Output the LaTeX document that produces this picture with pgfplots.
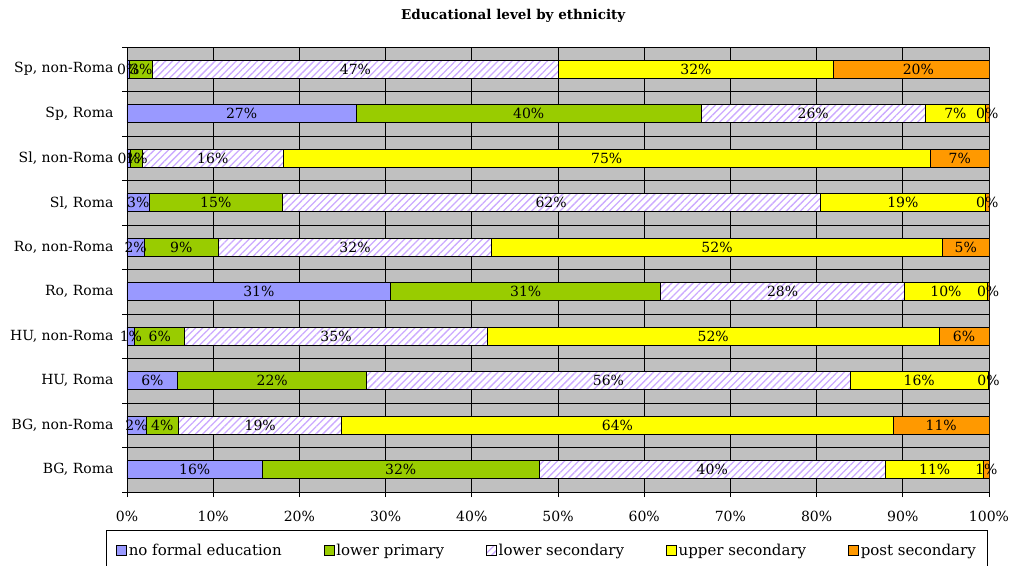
\documentclass[border=0pt]{standalone}
\usepackage{fontspec}
\setmainfont{DejaVu Serif}
\usepackage{pgfplots}
\pgfplotsset{compat=1.18}
\usepackage{pgfplotstable}
\usetikzlibrary{patterns.meta}

\definecolor{cnf}{RGB}{153,153,255}
\definecolor{clp}{RGB}{153,204,0}
\definecolor{cls}{RGB}{204,170,255}
\definecolor{cus}{RGB}{255,255,0}
\definecolor{cps}{RGB}{255,153,0}
\definecolor{bggray}{RGB}{192,192,192}

% rows from bottom (BG, Roma) to top (Sp, non-Roma), shares in %
\pgfplotstableread{
row nf   lp   ls   us   ps
0   15.7 32.1 40.2 11.4 0.6
1   2.2  3.8  18.9 64.0 11.1
2   5.9  21.9 56.1 16.0 0.1
3   0.9  5.8  35.1 52.4 5.8
4   30.6 31.3 28.3 9.6  0.2
5   2.0  8.6  31.7 52.3 5.4
6   2.6  15.4 62.4 19.2 0.4
7   0.4  1.4  16.3 75.1 6.8
8   26.6 40.0 26.0 7.0  0.4
9   0.3  2.7  47.0 32.0 19.6
}\edu

\pgfplotsset{
  frame/.style={scale only axis, width=862bp, height=445bp,
    xbar stacked, bar width=18bp,
    xmin=0, xmax=100, ymin=-0.5, ymax=9.5},
  % invisible copy of a segment that carries its label (placed mid-segment)
  seglabel/.style={
    draw=none, fill=none,
    nodes near coords={\pgfmathprintnumber[fixed,precision=0]{\pgfplotspointmeta}\%},
    point meta=explicit,
    every node near coord/.style={anchor=center, text=black,
      font=\fontsize{14bp}{16bp}\selectfont},
  },
}

\begin{document}
\begin{tikzpicture}
\begin{axis}[
  frame,
  axis background/.style={fill=bggray},
  axis x line*=bottom, axis y line*=left,
  axis line style={black, line width=0.8bp},
  xtick={0,10,...,100},
  minor xtick={0,10,...,100},
  xticklabel={\pgfmathprintnumber{\tick}\%},
  ytick={0,...,9},
  minor ytick={-0.5,0.5,...,9.5},
  yticklabels={{BG, Roma},{BG, non-Roma},{HU, Roma},{HU, non-Roma},{Ro, Roma},{Ro, non-Roma},{Sl, Roma},{Sl, non-Roma},{Sp, Roma},{Sp, non-Roma}},
  major tick length=0pt, minor tick length=5bp, tick align=outside,
  every tick/.style={black, line width=0.8bp},
  xmajorgrids, yminorgrids,
  major grid style={black, line width=0.75bp},
  minor grid style={black, line width=0.75bp},
  /pgf/number format/assume math mode=true,
  tick label style={font=\fontsize{14bp}{16bp}\selectfont, text=black},
  yticklabel style={xshift=-10bp},
  xticklabel style={yshift=-16bp},
  title={Educational level by ethnicity},
  title style={font=\fontsize{13.5bp}{15bp}\selectfont\bfseries, at={(0.448,1)}, anchor=center, yshift=25bp},
  legend columns=5,
  legend style={at={(0.4872,0)}, anchor=north, yshift=-38bp, draw=black, line width=0.6bp,
    font=\fontsize{15bp}{17bp}\selectfont, inner xsep=10bp, inner ysep=12bp,
    /tikz/every even column/.append style={column sep=40bp}},
  legend image code/.code={\draw[#1, line width=0.6bp] (0bp,-5bp) rectangle (10bp,5bp);},
  every axis plot/.append style={draw=black, line width=0.8bp},
]
\addplot[fill=cnf] table[x=nf, y=row] {\edu};
\addplot[fill=clp] table[x=lp, y=row] {\edu};
\addplot[fill=white, postaction={pattern={Lines[angle=45,distance=5bp,line width=1.3bp]}, pattern color=cls}] table[x=ls, y=row] {\edu};
\addplot[fill=cus] table[x=us, y=row] {\edu};
\addplot[fill=cps] table[x=ps, y=row] {\edu};
\legend{no formal education, lower primary, lower secondary, upper secondary, post secondary}
\draw[gray, line width=0.8bp] (rel axis cs:1,0) -- (rel axis cs:1,1);
\end{axis}
% second pass: the data labels, so that they lie above every bar
\begin{axis}[frame, hide axis, clip=false,
  /pgf/number format/assume math mode=true]
\addplot[seglabel] table[x=nf, y=row, meta=nf] {\edu};
\addplot[seglabel] table[x=lp, y=row, meta=lp] {\edu};
\addplot[seglabel] table[x=ls, y=row, meta=ls] {\edu};
\addplot[seglabel] table[x=us, y=row, meta=us] {\edu};
\addplot[seglabel] table[x=ps, y=row, meta=ps] {\edu};
\end{axis}
\pgfresetboundingbox
\useasboundingbox (-127bp,-74bp) rectangle (884bp,492bp);
\end{tikzpicture}
\end{document}
